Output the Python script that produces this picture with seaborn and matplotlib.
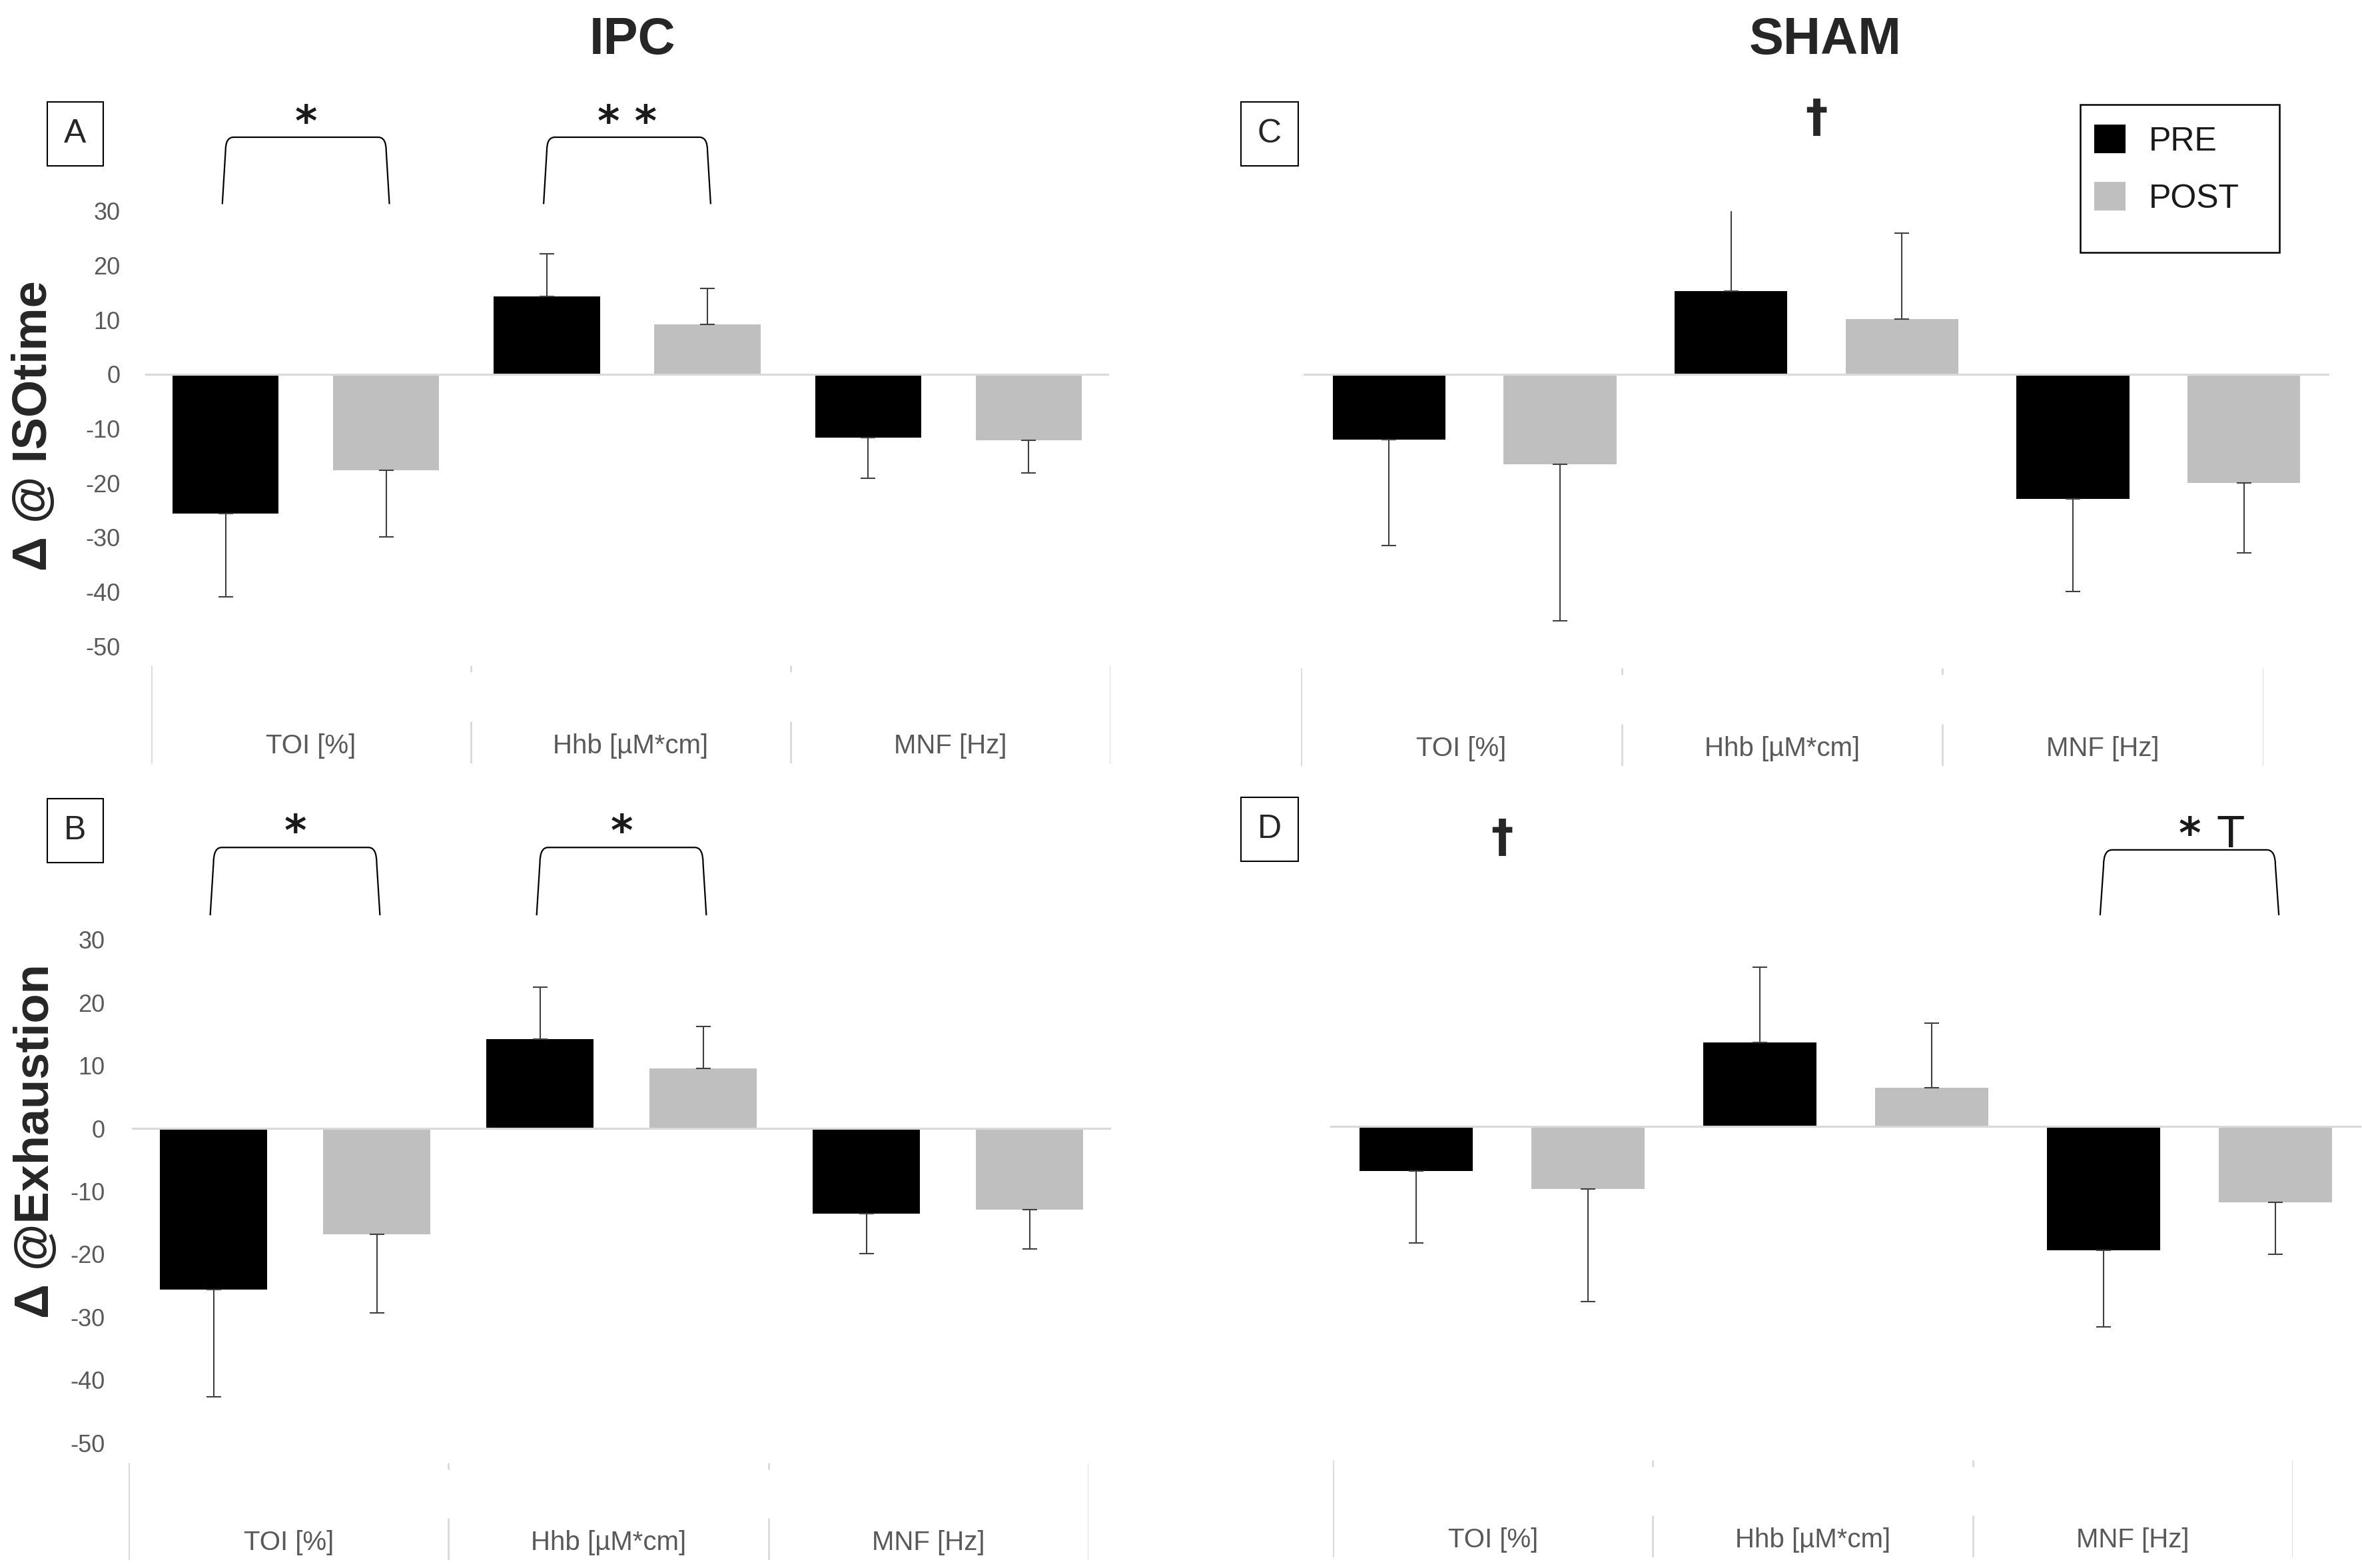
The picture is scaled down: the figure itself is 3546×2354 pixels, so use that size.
import numpy as np
import pandas as pd
import matplotlib.pyplot as plt
import seaborn as sns
from matplotlib.path import Path
from matplotlib.patches import PathPatch, Patch, Rectangle

# ==============================
# DATA
# ==============================
categories = ["TOI [%]", "Hhb [µM*cm]", "MNF [Hz]"]
times = ["PRE", "POST"]
y_ticks = [30, 20, 10, 0, -10, -20, -30, -40, -50]

# IPC, delta @ ISOtime
ipc_iso_pre = [-25.6, 14.3, -11.7]
ipc_iso_pre_sd = [15.3, 7.8, 7.4]
ipc_iso_post = [-17.6, 9.2, -12.1]
ipc_iso_post_sd = [12.3, 6.6, 6.1]

# IPC, delta @ exhaustion
ipc_exh_pre = [-25.6, 14.2, -13.6]
ipc_exh_pre_sd = [17.1, 8.3, 6.3]
ipc_exh_post = [-16.8, 9.5, -12.9]
ipc_exh_post_sd = [12.5, 6.7, 6.3]

# SHAM, delta @ ISOtime
sham_iso_pre = [-12.0, 15.3, -22.9]
sham_iso_pre_sd = [19.5, 14.9, 17.1]
sham_iso_post = [-16.6, 10.2, -20.0]
sham_iso_post_sd = [28.8, 15.7, 12.8]

# SHAM, delta @ exhaustion
sham_exh_pre = [-7.1, 13.4, -19.7]
sham_exh_pre_sd = [11.4, 11.9, 12.2]
sham_exh_post = [-9.9, 6.2, -12.1]
sham_exh_post_sd = [18.0, 10.2, 8.2]


def make_df(pre, pre_sd, post, post_sd):
    rows = []
    for t, vals, sds in [("PRE", pre, pre_sd), ("POST", post, post_sd)]:
        for c, v, s in zip(categories, vals, sds):
            rows.append({"parameter": c, "time": t, "delta": v, "sd": s})
    return pd.DataFrame(rows)


# ==============================
# STYLE / LAYOUT
# ==============================
sns.set_theme(style="white")
plt.rcParams["font.family"] = ["Liberation Sans", "DejaVu Sans"]
plt.rcParams["axes.unicode_minus"] = False

W, H = 3546, 2354
palette = {"PRE": "#000000", "POST": "#BFBFBF"}
GRAY_TXT = "#595959"
GRAY_LINE = "#D9D9D9"


def px_box(left, top, right, bottom):
    return [left / W, 1 - bottom / H, (right - left) / W, (bottom - top) / H]


panels = [
    dict(letter="A", df=make_df(ipc_iso_pre, ipc_iso_pre_sd, ipc_iso_post, ipc_iso_post_sd),
         bars=(218, 317, 1665, 970), strip=(227, 999, 1667, 1146), ticks=True, pad=27,
         brackets=[(0, 31.3, 43.6, "*"), (1, 31.3, 43.6, "* *")], daggers=[],
         letter_xy=(113, 201)),
    dict(letter="B", df=make_df(ipc_exh_pre, ipc_exh_pre_sd, ipc_exh_post, ipc_exh_post_sd),
         bars=(198, 1411, 1668, 2166), strip=(193, 2196, 1634, 2342), ticks=True, pad=29,
         brackets=[(0, 33.9, 44.7, "*"), (1, 33.9, 44.7, "*")], daggers=[],
         letter_xy=(113, 1247)),
    dict(letter="C", df=make_df(sham_iso_pre, sham_iso_pre_sd, sham_iso_post, sham_iso_post_sd),
         bars=(1957, 317, 3497, 970), strip=(1953, 1003, 3398, 1150), ticks=False, pad=0,
         brackets=[], daggers=[(1, 47.0)],
         letter_xy=(1906, 201)),
    dict(letter="D", df=make_df(sham_exh_pre, sham_exh_pre_sd, sham_exh_post, sham_exh_post_sd),
         bars=(1997, 1408, 3545, 2163), strip=(2001, 2192, 3442, 2338), ticks=False, pad=0,
         brackets=[(2, 33.6, 44.0, "*")], daggers=[(0, 45.8)],
         letter_xy=(1906, 1245)),
]


def bracket(ax, x0, x1, y0, y1, label):
    rx, ry = 0.025, 2.5
    verts = [(x0 - 0.01, y0), (x0, y1 - ry), (x0, y1), (x0 + rx, y1),
             (x1 - rx, y1), (x1, y1), (x1, y1 - ry), (x1 + 0.01, y0)]
    codes = [Path.MOVETO, Path.LINETO, Path.CURVE3, Path.CURVE3,
             Path.LINETO, Path.CURVE3, Path.CURVE3, Path.LINETO]
    ax.add_patch(PathPatch(Path(verts, codes), fill=False, ec="black", lw=1.6, clip_on=False))
    ax.text((x0 + x1) / 2, y1 + 0.3, label, ha="center", va="baseline", fontsize=46,
            fontweight="bold", family="DejaVu Sans", color="#1a1a1a", clip_on=False)


fig = plt.figure(figsize=(W / 100, H / 100), dpi=100)

for p in panels:
    ax = fig.add_axes(px_box(*p["bars"]))
    df = p["df"]
    sns.barplot(data=df, x="parameter", y="delta", hue="time", order=categories,
                hue_order=times, palette=palette, saturation=1, width=1.0, gap=0.34,
                errorbar=None, linewidth=0, legend=False, ax=ax)
    ax.set_xlim(-0.5, len(categories) - 0.5)
    ax.set_ylim(-50, 30)

    # one-sided error bars (away from zero)
    for level, cont in zip(times, ax.containers):
        sub = df[df["time"] == level].set_index("parameter")
        for bar in cont:
            xc = bar.get_x() + bar.get_width() / 2
            cat = categories[int(round(xc))]
            v, s = sub.loc[cat, "delta"], sub.loc[cat, "sd"]
            yerr = [[s], [0]] if v < 0 else [[0], [s]]
            ax.errorbar(xc, v, yerr=yerr, fmt="none", ecolor="#404040",
                        elinewidth=1.5, capsize=8, capthick=1.5, zorder=4)

    ax.axhline(0, color=GRAY_LINE, lw=2.2, zorder=5)
    sns.despine(ax=ax, left=True, bottom=True)
    ax.set_xticks([])
    ax.set_xlabel("")
    ax.set_ylabel("")
    if p["ticks"]:
        ax.set_yticks(y_ticks)
        ax.tick_params(axis="y", length=0, pad=p["pad"], labelsize=26, labelcolor=GRAY_TXT)
    else:
        ax.set_yticks([])

    for i, y0, y1, label in p["brackets"]:
        bracket(ax, i - 0.25, i + 0.25, y0, y1, label)
    for i, y in p["daggers"]:
        ax.text(i, y, "†", ha="center", va="center", fontsize=48, fontweight="bold",
                family="DejaVu Sans", clip_on=False)
    if p["letter"] == "D":
        # the thin "T" next to the asterisk over MNF
        ax.text(2.12, 44.4, "T", ha="center", va="baseline", fontsize=50,
                color="#1a1a1a", clip_on=False)

    # category strip underneath (Excel style)
    st = fig.add_axes(px_box(*p["strip"]))
    st.set_xlim(-0.5, len(categories) - 0.5)
    st.set_ylim(0, 1)
    st.axis("off")
    edges = np.arange(len(categories) + 1) - 0.5
    st.vlines([edges[0], edges[-1]], 0, 1, color=GRAY_LINE, lw=2)
    st.vlines(edges[1:-1], 0.93, 1, color=GRAY_LINE, lw=2)
    st.vlines(edges[1:-1], 0, 0.43, color=GRAY_LINE, lw=2)
    for i, c in enumerate(categories):
        st.text(i, 0.18, c, ha="center", va="center", fontsize=29, color=GRAY_TXT)

    lx, ly = p["letter_xy"]
    fig.text(lx / W, 1 - ly / H, p["letter"], ha="center", va="center", fontsize=36,
             bbox=dict(boxstyle="square,pad=0.5", fc="white", ec="black", lw=1.5))

    if p["letter"] == "C":
        handles = [Patch(facecolor=palette[t], edgecolor="none") for t in times]
        leg = ax.legend(handles, times, loc="upper left", bbox_to_anchor=(0.751, 1.245),
                        borderaxespad=0, fontsize=36, frameon=False,
                        handlelength=0.95, handleheight=0.95, handletextpad=0.7,
                        labelspacing=0.75, borderpad=0.6)
        for t in leg.get_texts():
            t.set_color("#1a1a1a")

# legend frame (taller than its two entries, as in the original)
fig.add_artist(Rectangle((3123 / W, 1 - 379 / H), 299 / W, 222 / H, transform=fig.transFigure,
                         fill=False, ec="black", lw=1.8))

# titles and y labels
fig.text(950 / W, 1 - 81 / H, "IPC", ha="center", va="baseline", fontsize=56, fontweight="bold")
fig.text(2740 / W, 1 - 81 / H, "SHAM", ha="center", va="baseline", fontsize=56, fontweight="bold")
fig.text(51 / W, 1 - 639 / H, "Δ @ ISOtime", rotation=90, ha="center", va="center",
         fontsize=52, fontweight="bold")
fig.text(54 / W, 1 - 1713 / H, "Δ @Exhaustion", rotation=90, ha="center", va="center",
         fontsize=52, fontweight="bold")

fig.savefig("out.png", dpi=100, facecolor="white")
